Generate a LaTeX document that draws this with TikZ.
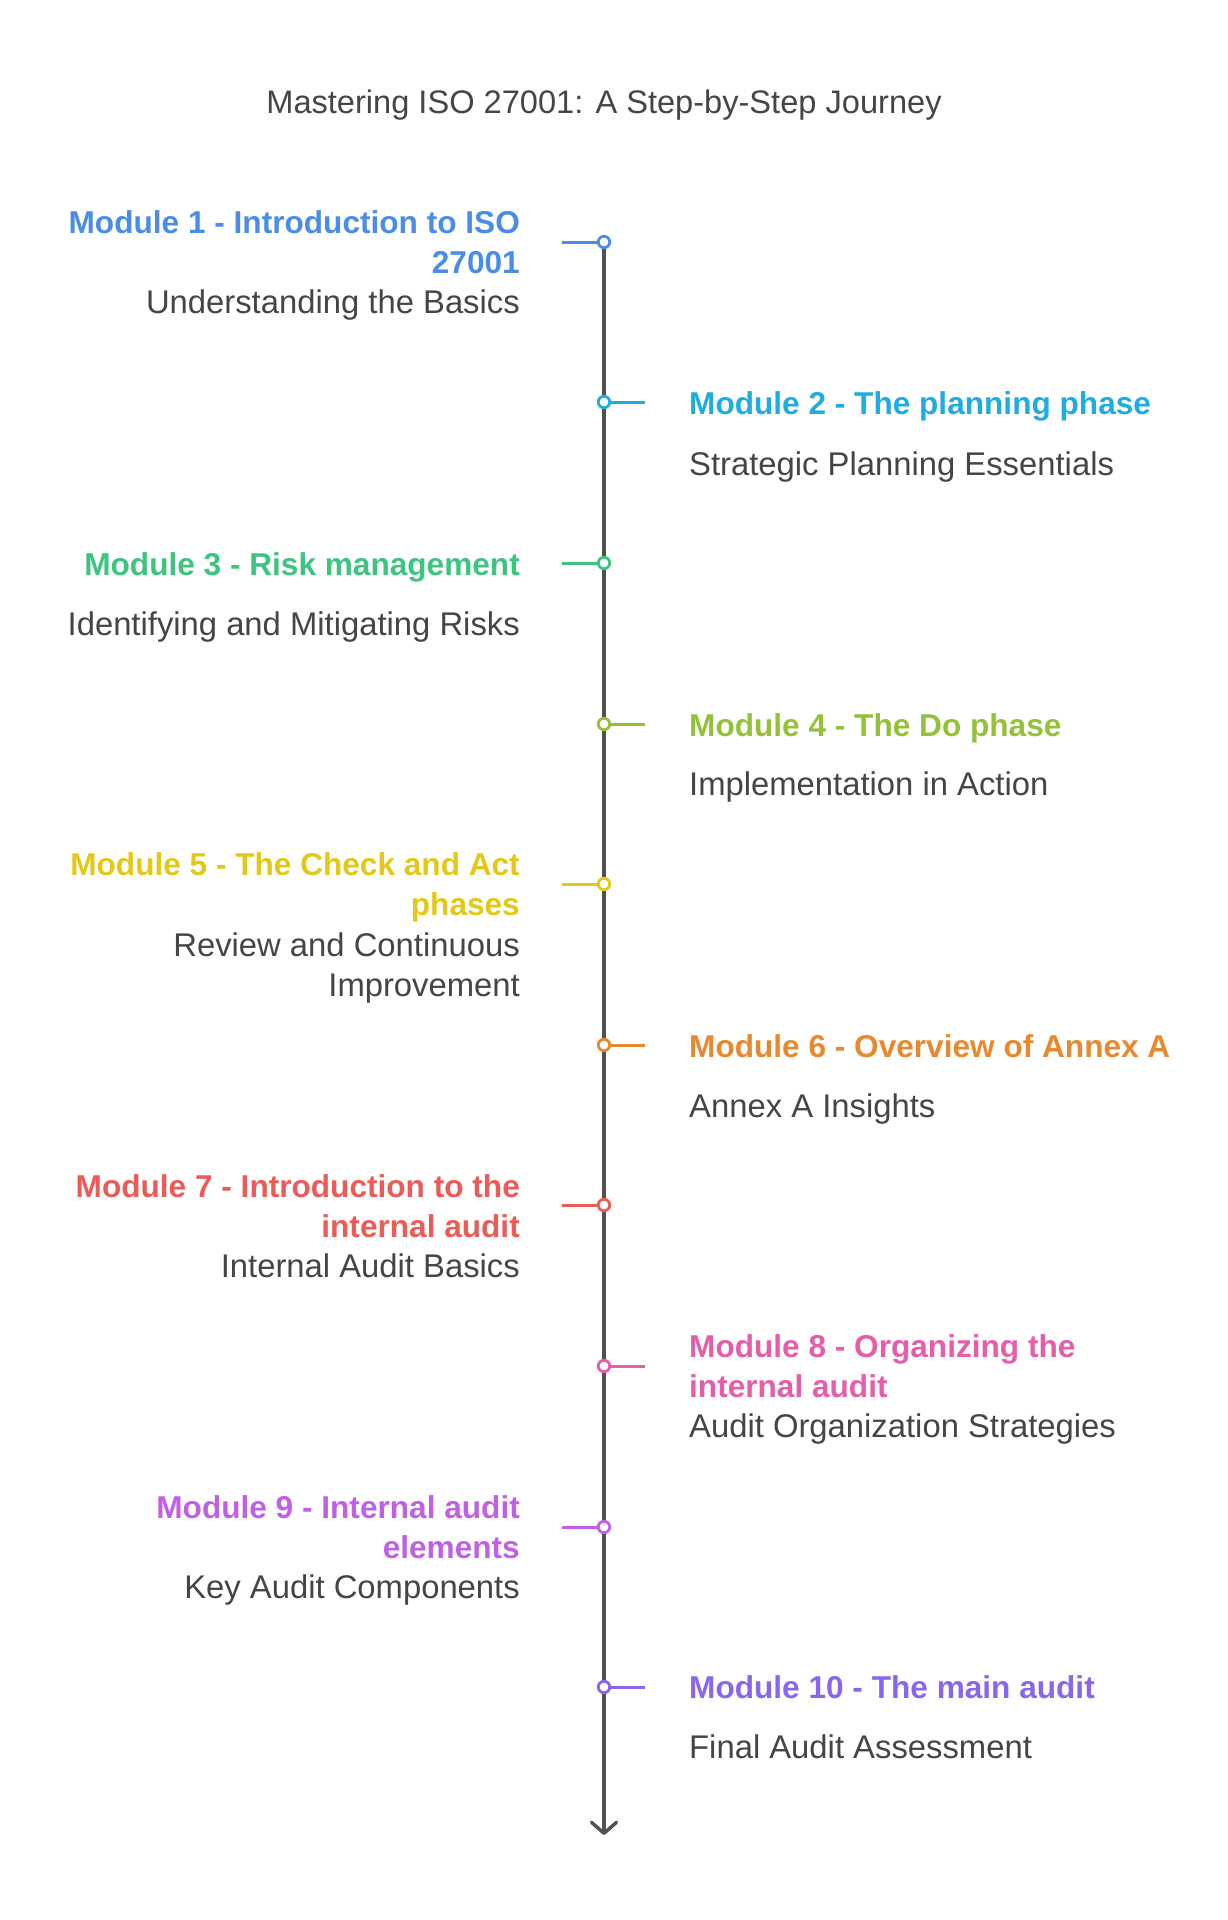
\documentclass[tikz,border=0pt]{standalone}
\usepackage{fontspec}
\setmainfont{Liberation Sans}
\usetikzlibrary{arrows.meta}
\definecolor{cA}{HTML}{4A8CE8}
\definecolor{cB}{HTML}{1FADE0}
\definecolor{cC}{HTML}{3DC47E}
\definecolor{cD}{HTML}{93C23A}
\definecolor{cE}{HTML}{E3C818}
\definecolor{cF}{HTML}{E8892F}
\definecolor{cG}{HTML}{EC5B57}
\definecolor{cH}{HTML}{E65DAA}
\definecolor{cI}{HTML}{C060E6}
\definecolor{cJ}{HTML}{8A65EE}
\definecolor{txt}{HTML}{454545}
\definecolor{axisc}{HTML}{505050}
\tikzset{
  headL/.style={anchor=base east, align=right, inner sep=0pt, font=\fontsize{31.6}{40}\selectfont\bfseries},
  headR/.style={anchor=base west, align=left, inner sep=0pt, font=\fontsize{31.6}{40}\selectfont\bfseries},
  subL/.style={anchor=base east, align=right, inner sep=0pt, text=txt, font=\fontsize{32.8}{40}\selectfont},
  subR/.style={anchor=base west, align=left, inner sep=0pt, text=txt, font=\fontsize{32.8}{40}\selectfont},
  dot/.style={circle, draw, fill=white, line width=2.8pt, inner sep=0pt, minimum size=11.5pt},
  tick/.style={line width=3pt},
  axisline/.style={line width=3.4pt, draw=axisc, -{Straight Barb[length=11pt,width=25pt,round]}},
  ttlstyle/.style={anchor=base, inner sep=0pt, text=txt, font=\fontsize{32.6}{40}\selectfont}
}
\begin{document}
\begin{tikzpicture}[x=1pt,y=-1pt]
\useasboundingbox[fill=white] (0,0) rectangle (1228,1920);
\node[ttlstyle] (ttl) at (604,113) {Mastering ISO 27001: A Step-by-Step Journey};

% markers
\coordinate (p1) at (604,242);
\coordinate (p2) at (604,402);
\coordinate (p3) at (604,563);
\coordinate (p4) at (604,724);
\coordinate (p5) at (604,884);
\coordinate (p6) at (604,1045);
\coordinate (p7) at (604,1205);
\coordinate (p8) at (604,1366);
\coordinate (p9) at (604,1527);
\coordinate (p10) at (604,1687);
\coordinate (bot) at (604,1835);
\draw[axisline] (p1) -- (bot);

% tick ends
\coordinate (k1) at (562,242);
\coordinate (k2) at (645,402);
\coordinate (k3) at (562,563);
\coordinate (k4) at (645,724);
\coordinate (k5) at (562,884);
\coordinate (k6) at (645,1045);
\coordinate (k7) at (562,1205);
\coordinate (k8) at (645,1366);
\coordinate (k9) at (562,1527);
\coordinate (k10) at (645,1687);
\foreach \i/\c in {1/cA,2/cB,3/cC,4/cD,5/cE,6/cF,7/cG,8/cH,9/cI,10/cJ}{
  \draw[tick, draw=\c] (k\i) -- (p\i);
  \node[dot, draw=\c] (m\i) at (p\i) {};
}

% Module 1 (base anchor = last line)
\node[headL, text=cA] (t1) at (520,273) {Module 1 - Introduction to ISO\\27001};
\node[subL] (s1) at (520,313) {Understanding the Basics};
% Module 2
\node[headR, text=cB] (t2) at (689,414) {Module 2 - The planning phase};
\node[subR] (s2) at (689,475) {Strategic Planning Essentials};
% Module 3
\node[headL, text=cC] (t3) at (520,575) {Module 3 - Risk management};
\node[subL] (s3) at (520,635) {Identifying and Mitigating Risks};
% Module 4
\node[headR, text=cD] (t4) at (689,736) {Module 4 - The Do phase};
\node[subR] (s4) at (689,795) {Implementation in Action};
% Module 5
\node[headL, text=cE] (t5) at (520,915) {Module 5 - The Check and Act\\phases};
\node[subL] (s5) at (520,996) {Review and Continuous\\Improvement};
% Module 6
\node[headR, text=cF] (t6) at (689,1057) {Module 6 - Overview of Annex A};
\node[subR] (s6) at (689,1117) {Annex A Insights};
% Module 7
\node[headL, text=cG] (t7) at (520,1237) {Module 7 - Introduction to the\\internal audit};
\node[subL] (s7) at (520,1277) {Internal Audit Basics};
% Module 8
\node[headR, text=cH] (t8) at (689,1397) {Module 8 - Organizing the\\internal audit};
\node[subR] (s8) at (689,1437) {Audit Organization Strategies};
% Module 9
\node[headL, text=cI] (t9) at (520,1558) {Module 9 - Internal audit\\elements};
\node[subL] (s9) at (520,1598) {Key Audit Components};
% Module 10
\node[headR, text=cJ] (t10) at (689,1698) {Module 10 - The main audit};
\node[subR] (s10) at (689,1758) {Final Audit Assessment};
\end{tikzpicture}
\end{document}
